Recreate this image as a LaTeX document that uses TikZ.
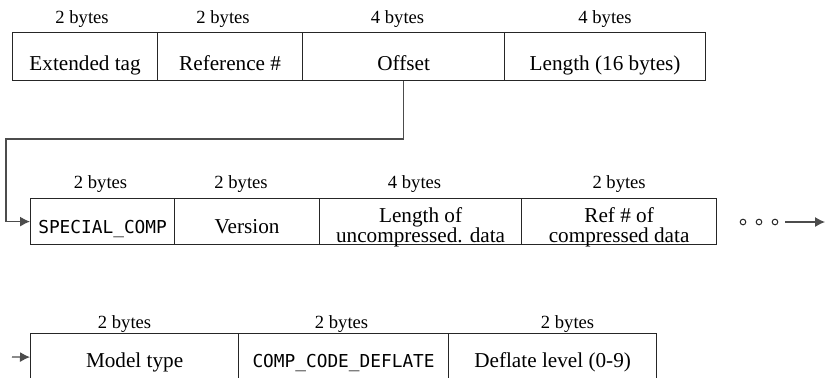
\documentclass[tikz,border=0pt]{standalone}
\usepackage{fontspec}
\setmainfont{Liberation Serif}
\newfontfamily\codefont{DejaVu Sans Mono}
\usetikzlibrary{arrows.meta}

\tikzset{
  field/.style={draw=black!85, line width=0.6pt, inner sep=0pt, anchor=north west,
    align=center, text depth=0pt, font=\fontsize{10.6}{9.7}\selectfont},
  bytes/.style={anchor=base, inner sep=0pt, font=\fontsize{9.3}{11}\selectfont},
  code/.style={font=\codefont\fontsize{8.9}{10}\selectfont},
  link/.style={draw=black!70, line width=0.6pt, ->},
}

\begin{document}
\begin{tikzpicture}[x=0.5pt, y=-0.5pt, >={Latex[length=5pt, width=5pt]}]
  \useasboundingbox (0, 0) rectangle (825, 377);
  \clip (0, 0) rectangle (825, 377);

  % Row 1: extended tag header
  \begin{scope}[every node/.append style={minimum height=24pt, text height=14pt}]
    \node[field, minimum width=72.5pt] (ext) at (12, 32) {Extended tag};
    \node[field, minimum width=72.5pt] (ref) at (157, 32) {Reference \#};
    \node[field, minimum width=101pt] (off) at (302, 32) {Offset};
    \node[field, minimum width=100.5pt] (len) at (504, 32) {Length (16 bytes)};
  \end{scope}
  \node[bytes, xshift=-1.5pt] (ext-b) at ([yshift=4.5pt]ext.north) {2 bytes};
  \node[bytes, xshift=-3.5pt] (ref-b) at ([yshift=4.5pt]ref.north) {2 bytes};
  \node[bytes, xshift=-3pt] (off-b) at ([yshift=4.5pt]off.north) {4 bytes};
  \node[bytes] (len-b) at ([yshift=4.5pt]len.north) {4 bytes};

  % Row 2: special compression header
  \begin{scope}[every node/.append style={minimum height=23pt, text height=12pt}]
    \node[field, code, minimum width=72pt] (sc) at (30, 198) {SPECIAL\_COMP};
    \node[field, minimum width=72.5pt] (ver) at (174, 198) {Version};
    \node[field, minimum width=101pt, text height=20.5pt] (ulen) at (319, 198) {Length of\\uncompressed. data};
    \node[field, minimum width=97.5pt, text height=20.5pt] (cref) at (521, 198) {Ref \# of\\compressed data};
  \end{scope}
  \node[bytes, xshift=-1pt] (sc-b) at ([yshift=5pt]sc.north) {2 bytes};
  \node[bytes, xshift=-3pt] (ver-b) at ([yshift=5pt]ver.north) {2 bytes};
  \node[bytes, xshift=-3pt] (ulen-b) at ([yshift=5pt]ulen.north) {4 bytes};
  \node[bytes] (cref-b) at ([yshift=5pt]cref.north) {2 bytes};

  % Row 3: deflate model
  \begin{scope}[every node/.append style={minimum height=23.5pt, text height=10.5pt}]
    \node[field, minimum width=104pt] (model) at (30, 333) {Model type};
    \node[field, code, minimum width=105pt] (code) at (238, 333) {COMP\_CODE\_DEFLATE};
    \node[field, minimum width=104pt] (level) at (448, 333) {Deflate level (0-9)};
  \end{scope}
  \node[bytes, xshift=-5pt] (model-b) at ([yshift=2.5pt]model.north) {2 bytes};
  \node[bytes, xshift=-1pt] (code-b) at ([yshift=2.5pt]code.north) {2 bytes};
  \node[bytes, xshift=7.5pt] (level-b) at ([yshift=2.5pt]level.north) {2 bytes};

  % offset points to the compression header
  \coordinate (bend) at (6, 139);
  \draw[link] (off.south) |- (bend) |- (sc.west);

  % continuation
  \foreach \x in {743, 759, 775}
    \draw[black!85, line width=0.5pt] (\x, 222) circle (1.4pt);
  \coordinate (dots) at (785, 222);
  \coordinate (more) at (825, 222);
  \draw[link] (dots) -- (more);
  \coordinate (cont) at (12, 357);
  \draw[link] (cont) -- (model.west);
\end{tikzpicture}
\end{document}
